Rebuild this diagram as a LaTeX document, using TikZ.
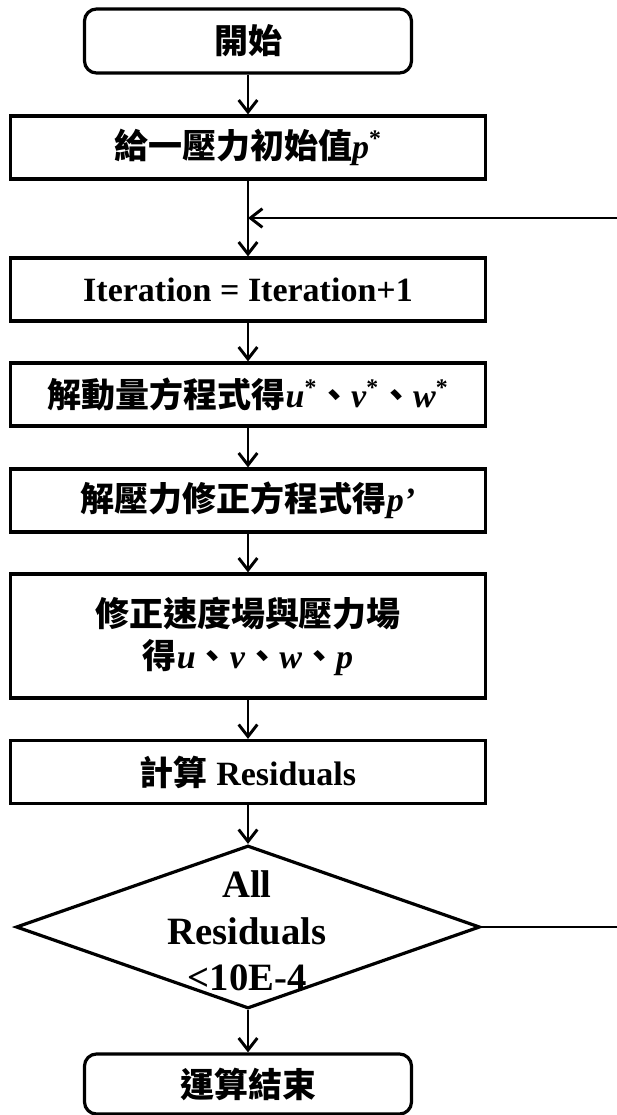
\documentclass[tikz,border=0pt]{standalone}
\usepackage{fontspec}
\setmainfont{Liberation Serif}
\newfontfamily\cjk{Noto Sans CJK TC}
\usetikzlibrary{shapes.geometric,arrows.meta}

\begin{document}
\begin{tikzpicture}[x=0.75pt,y=-0.75pt,
        font=\bfseries\fontsize{25.5}{31.5}\selectfont,
        box/.style={draw,line width=2.4pt,minimum width=356.25pt,minimum height=47.25pt,align=center,inner sep=0pt},
        ends/.style={box,rounded corners=9pt,minimum width=245.25pt,minimum height=48pt},
        decision/.style={draw,diamond,line width=2.4pt,minimum width=348pt,minimum height=122.25pt,inner sep=0pt},
        flow/.style={line width=2.2pt,-{Straight Barb[length=9pt,width=14pt]}}]
        \useasboundingbox (0,0) rectangle (617,1115);

        \node[ends] (start) at (248,41) {\cjk 開始};
        \node[box] (init) at (248,147.5) {{\cjk 給一壓力初始值}\textit{p}\textsuperscript{*}};
        \node[box] (iter) at (248,289.5) {Iteration = Iteration+1};
        \node[box] (mom) at (248,394.5) {{\cjk 解動量方程式得}\textit{u}\textsuperscript{*}{\cjk 、}\textit{v}\textsuperscript{*}{\cjk 、}\textit{w}\textsuperscript{*}};
        \node[box] (pcor) at (248,500.5) {{\cjk 解壓力修正方程式得}\textit{p’}};
        \node[box,minimum height=93pt] (corr) at (248,636) {{\cjk 修正速度場與壓力場}\\{\cjk 得}\textit{u}{\cjk 、}\textit{v}{\cjk 、}\textit{w}{\cjk 、}\textit{p}};
        \node[box] (resid) at (248,772) {{\cjk 計算} Residuals};
        \node[decision] (check) at (248,927) {};
        \node[align=center,font=\bfseries\fontsize{29}{35}\selectfont] (checktext) at (247,931) {All\\Residuals\\<10E-4};
        \node[ends,minimum height=45pt] (end) at (248,1084) {\cjk 運算結束};

        \coordinate (merge) at (248,218);
        \coordinate (loopin) at (617,218);
        \coordinate (loopout) at (617,927);

        \draw [flow] (start) -- (init);
        \draw [flow] (init) -- (iter);
        \draw [flow] (loopin) -- (merge);
        \draw [flow] (iter) -- (mom);
        \draw [flow] (mom) -- (pcor);
        \draw [flow] (pcor) -- (corr);
        \draw [flow] (corr) -- (resid);
        \draw [flow] (resid) -- (check);
        \draw [flow] (check) -- (end);
        \draw [line width=2.2pt] (check) -- (loopout);
      \end{tikzpicture}
\end{document}
